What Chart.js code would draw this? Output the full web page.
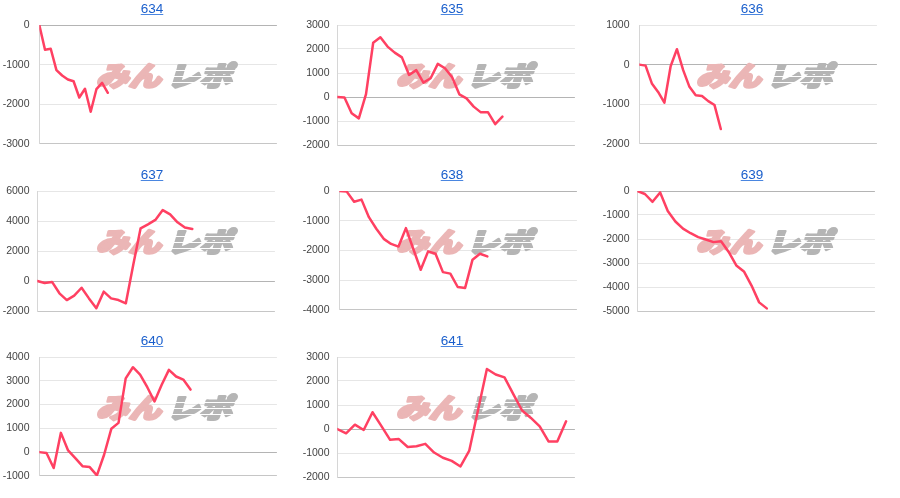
<!DOCTYPE html>
<html>
<head>
<meta charset="utf-8">
<script src="https://cdn.jsdelivr.net/npm/chart.js@4.4.1/dist/chart.umd.min.js"></script>
<style>
  body { margin: 0; background: #fff; width: 900px; height: 498px; position: relative; overflow: hidden; }
  .cell { position: absolute; width: 300px; height: 160px; }
  .cell canvas { position: absolute; left: 0; top: 0; }
  .ttl { position: absolute; left: 0; top: 1px; width: 304px; text-align: center; z-index: 2;
         font: 13.5px/16px "Liberation Sans", Arial, sans-serif; }
  .ttl a { color: #1a5fcc; text-decoration: underline; text-decoration-color: #4a86e0; }
</style>
</head>
<body>
<script>
// machine numbers shown as titles
var titles = ["634", "635", "636", "637", "638", "639", "640", "641"];

// difference curves, one value per sample
var d634 = [0, -625, -600, -1140, -1275, -1375, -1420, -1830, -1610, -2190, -1620, -1460, -1710];
var d635 = [0, -20, -680, -890, 120, 2260, 2490, 2100, 1850, 1650, 920, 1120, 600, 780, 1380, 1200, 820, 110, -60, -400, -640, -640, -1130, -820];
var d636 = [0, -25, -475, -690, -960, -40, 390, -140, -560, -775, -790, -920, -1020, -1625];
var d637 = [0, -130, -60, -820, -1270, -980, -450, -1160, -1820, -710, -1160, -1270, -1490, 1070, 3510, 3780, 4070, 4730, 4440, 3910, 3560, 3470];
var d638 = [0, -20, -360, -290, -880, -1270, -1610, -1780, -1870, -1250, -1950, -2650, -2030, -2110, -2730, -2780, -3230, -3260, -2310, -2110, -2200];
var d639 = [0, -125, -450, -60, -830, -1270, -1570, -1760, -1920, -2020, -2130, -2090, -2540, -3100, -3350, -3940, -4640, -4890];
var d640 = [0, -40, -670, 810, 70, -250, -590, -630, -980, -110, 980, 1230, 3100, 3570, 3260, 2730, 2130, 2830, 3460, 3180, 3050, 2630];
var d641 = [0, -180, 180, -40, 700, 130, -450, -420, -750, -720, -620, -980, -1200, -1330, -1560, -900, 800, 2500, 2270, 2150, 1450, 770, 460, 110, -520, -520, 320];
var series = [d634, d635, d636, d637, d638, d639, d640, d641];

// axis ranges
var xSpans = [41.6, 33.1, 37.9, 32.2, 32.1, 31.2, 33.0, 27.0];
var yMin  = [-3000, -2000, -2000, -2000, -4000, -5000, -1000, -2000];
var yMax  = [0, 3000, 1000, 6000, 0, 0, 4000, 3000];
var yStep = [1000, 1000, 1000, 2000, 1000, 1000, 1000, 1000];

// "みんレポ" logo behind the lines
var watermark = {
  id: 'watermark',
  beforeDatasetsDraw: function(chart) {
    var c = chart.ctx;
    c.save();
    c.translate(96, 86);
    c.transform(1.2, 0, -0.3, 1, 0, 0);
    c.font = '900 27px "Noto Sans CJK JP"';
    c.textBaseline = 'alphabetic';
    c.lineJoin = 'round';
    c.lineWidth = 2.6;
    c.fillStyle = c.strokeStyle = '#ebb6b6';
    c.fillText('みん', 0, 0);
    c.strokeText('みん', 0, 0);
    c.fillStyle = c.strokeStyle = '#b5b5b5';
    c.fillText('レポ', 59, 0);
    c.strokeText('レポ', 59, 0);
    c.strokeStyle = '#ffffff';
    c.lineWidth = 1.2;
    [-16, -10, -4].forEach(function(y) {
      c.beginPath();
      c.moveTo(57, y + 0.5);
      c.lineTo(120, y + 0.5);
      c.stroke();
    });
    c.restore();
  }
};

titles.forEach(function(t, i) {
  var col = i % 3, row = Math.floor(i / 3);
  var cell = document.createElement('div');
  cell.className = 'cell';
  cell.style.left = (col * 300) + 'px';
  cell.style.top = (row * 166) + 'px';
  cell.innerHTML = '<div class="ttl"><a href="#">' + t + '</a></div>';
  var cv = document.createElement('canvas');
  cv.width = 300; cv.height = 160;
  cell.appendChild(cv);
  document.body.appendChild(cell);

  var axisW = (i % 2) ? 37.3 : 39.3;
  new Chart(cv, {
    type: 'line',
    data: {
      datasets: [{
        data: series[i].map(function(v, k) { return { x: k, y: v }; }),
        borderColor: '#ff4062',
        borderWidth: 2.5,
        borderJoinStyle: 'round',
        borderCapStyle: 'round',
        pointRadius: 0,
        tension: 0,
        fill: false
      }]
    },
    options: {
      responsive: false,
      animation: false,
      devicePixelRatio: 1,
      layout: { padding: { top: 25, bottom: 15, left: 0, right: 300 - axisW - 237.6 } },
      plugins: { legend: { display: false }, tooltip: { enabled: false } },
      scales: {
        x: { type: 'linear', display: false, min: 0, max: xSpans[i] },
        y: {
          min: yMin[i], max: yMax[i],
          afterFit: function(s) { s.width = axisW; },
          border: { display: true, color: '#d6d6d6', width: 1 },
          grid: {
            drawTicks: false,
            color: function(ctx) {
              if (ctx.tick && ctx.tick.value === 0) return '#b4b4b4';
              if (ctx.index === 0) return '#c6c6c6';
              return '#e6e6e6';
            }
          },
          ticks: {
            stepSize: yStep[i],
            padding: axisW - 29.5,
            color: '#444444',
            font: { family: '"Liberation Sans", Arial, sans-serif', size: 10.5 },
            callback: function(v) { return String(v); }
          }
        }
      }
    },
    plugins: [watermark]
  });
});
</script>
</body>
</html>
